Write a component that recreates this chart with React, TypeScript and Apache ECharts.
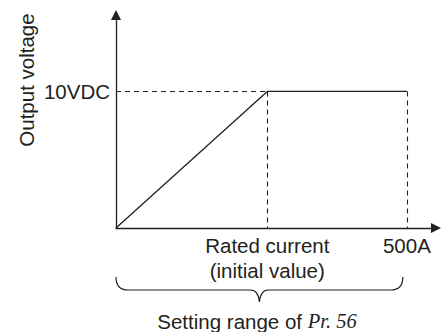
import React, { useEffect, useRef } from 'react';
import * as echarts from 'echarts';

// Data
const currentPoints = [0, 260, 500];
const voltagePoints = [0, 10, 10];
const ratedCurrent = 260;
const maxCurrent = 500;
const ratedVoltage = 10;
const xTickValues = [260, 500];
const xTickLabels = ['Rated current\n(initial value)', '500A'];
const yTickValues = [10];
const yTickLabels = ['10VDC'];
const braceRange = [0, 493];
const xAxisMax = 550;
const yAxisMax = 15.6;
const yAxisTitle = 'Output voltage';
const braceTitlePlain = 'Setting range of ';
const braceTitleItalic = 'Pr. 56';

const INK = '#231f20';
const SANS = '"Liberation Sans", Arial, Helvetica, sans-serif';
const SERIF = '"Liberation Serif", "Times New Roman", serif';

export default function App() {
  const ref = useRef<HTMLDivElement>(null);

  useEffect(() => {
    if (!ref.current) return;
    const chart = echarts.init(ref.current, null, { renderer: 'svg' });

    const linePoints = currentPoints.map((x, i) => [x, voltagePoints[i]]);

    const option: any = {
      animation: false,
      backgroundColor: '#ffffff',
      grid: {
        left: 116,
        right: 5,
        top: 15,
        bottom: 104,
        containLabel: false,
        outerBoundsMode: 'none',
      },
      xAxis: {
        type: 'value',
        min: 0,
        max: xAxisMax,
        splitLine: { show: false },
        axisTick: { show: false },
        axisLine: {
          show: true,
          onZero: false,
          symbol: ['none', 'triangle'],
          symbolSize: [10, 10],
          lineStyle: { color: INK, width: 1.3 },
        },
        axisLabel: {
          show: true,
          customValues: xTickValues,
          formatter: (v: number) => {
            const i = xTickValues.indexOf(v);
            return i >= 0 ? xTickLabels[i] : '';
          },
          margin: 5,
          color: INK,
          fontSize: 20.5,
          lineHeight: 25,
          fontFamily: SANS,
        },
      },
      yAxis: {
        type: 'value',
        min: 0,
        max: yAxisMax,
        splitLine: { show: false },
        axisTick: { show: false },
        axisLine: {
          show: true,
          onZero: false,
          symbol: ['none', 'triangle'],
          symbolSize: [10, 10],
          lineStyle: { color: INK, width: 1.3 },
        },
        axisLabel: {
          show: true,
          customValues: yTickValues,
          formatter: (v: number) => {
            const i = yTickValues.indexOf(v);
            return i >= 0 ? yTickLabels[i] : '';
          },
          margin: 6,
          color: INK,
          fontSize: 20.5,
          fontFamily: SANS,
        },
      },
      graphic: [
        {
          type: 'text',
          x: 26,
          y: 80,
          rotation: Math.PI / 2,
          style: {
            text: yAxisTitle,
            fill: INK,
            font: `20.5px ${SANS}`,
            align: 'center',
            verticalAlign: 'middle',
          },
        },
        {
          type: 'text',
          x: 257,
          y: 321,
          style: {
            text: `{a|${braceTitlePlain}}{b|${braceTitleItalic}}`,
            align: 'center',
            verticalAlign: 'middle',
            rich: {
              a: { fontFamily: SANS, fontSize: 20.5, fill: INK, color: INK },
              b: {
                fontFamily: SERIF,
                fontStyle: 'italic',
                fontSize: 20.5,
                fill: INK,
                color: INK,
              },
            },
          },
        },
      ],
      series: [
        {
          type: 'line',
          data: linePoints,
          symbol: 'none',
          silent: true,
          lineStyle: { color: INK, width: 1.3 },
          markLine: {
            silent: true,
            symbol: ['none', 'none'],
            label: { show: false },
            lineStyle: { color: INK, width: 1.1, type: [5, 4] },
            emphasis: { disabled: true },
            data: [
              [{ coord: [0, ratedVoltage] }, { coord: [ratedCurrent, ratedVoltage] }],
              [{ coord: [ratedCurrent, ratedVoltage] }, { coord: [ratedCurrent, 0] }],
              [{ coord: [maxCurrent, ratedVoltage] }, { coord: [maxCurrent, 0] }],
            ],
          },
        },
        {
          type: 'custom',
          coordinateSystem: 'cartesian2d',
          clip: false,
          silent: true,
          data: [braceRange],
          encode: { x: [0, 1] },
          renderItem: (params: any, api: any) => {
            const l = api.coord([api.value(0), 0]);
            const r = api.coord([api.value(1), 0]);
            const L = l[0];
            const R = r[0];
            const M = (L + R) / 2;
            const y0 = l[1];
            const yEnd = y0 + 49;
            const y1 = y0 + 62;
            const y2 = y0 + 74;
            const d =
              `M${L},${yEnd} Q${L},${y1} ${L + 12},${y1} ` +
              `L${M - 9},${y1} Q${M - 1},${y1} ${M},${y2} ` +
              `Q${M + 1},${y1} ${M + 9},${y1} ` +
              `L${R - 12},${y1} Q${R},${y1} ${R},${yEnd}`;
            return {
              type: 'path',
              shape: { pathData: d },
              style: { stroke: INK, fill: 'none', lineWidth: 1.2 },
            };
          },
        },
      ],
    };

    chart.setOption(option);
    return () => chart.dispose();
  }, []);

  return (
    <div
      ref={ref}
      style={{ position: 'absolute', left: 0, top: 0, width: 441, height: 332, background: '#fff' }}
    />
  );
}
